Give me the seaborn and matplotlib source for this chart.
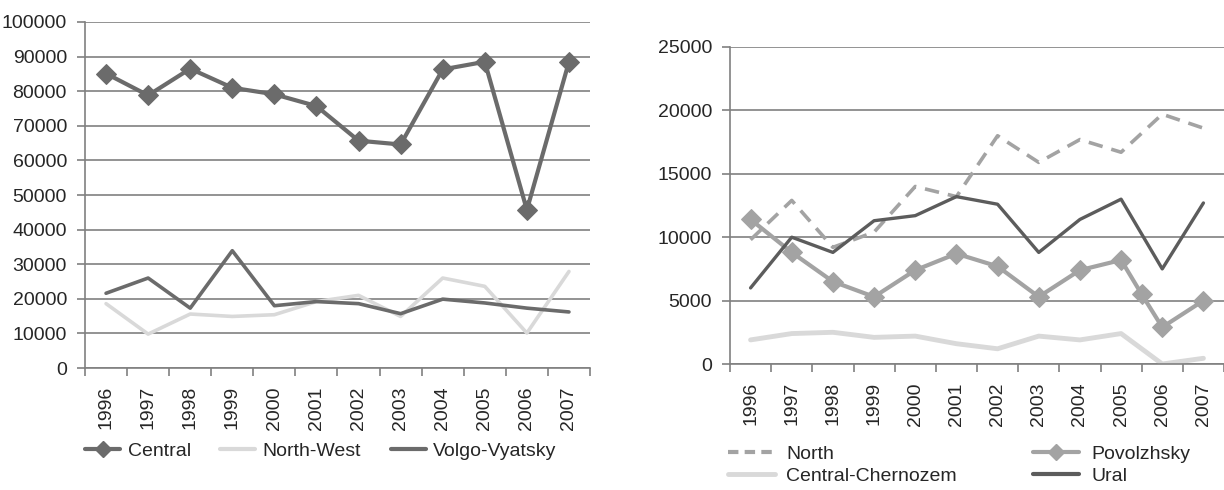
import numpy as np
import pandas as pd
import seaborn as sns
import matplotlib.pyplot as plt
from matplotlib.lines import Line2D

# Data -----------------------------------------------------------------------
years = [1996, 1997, 1998, 1999, 2000, 2001, 2002, 2003, 2004, 2005, 2006, 2007]

central = [85100, 78800, 86500, 81000, 79100, 75700, 65700, 64600, 86300, 88500, 45700, 88500]
north_west = [18600, 9800, 15600, 14900, 15400, 19200, 21000, 14900, 26000, 23600, 10100, 27900]
volgo_vyatsky = [21600, 26000, 17300, 33900, 18000, 19200, 18600, 15700, 19900, 18800, 17300, 16200]

north = [9800, 12900, 9200, 10400, 14000, 13200, 18000, 15900, 17700, 16700, 19700, 18600]
# Povolzhsky has one extra point drawn between 2005 and 2006 in the source
povolzhsky_years = [1996, 1997, 1998, 1999, 2000, 2001, 2002, 2003, 2004, 2005, 2005.5, 2006, 2007]
povolzhsky = [11400, 8800, 6500, 5300, 7400, 8700, 7700, 5300, 7400, 8200, 5500, 2900, 5000]
central_chernozem = [1900, 2400, 2500, 2100, 2200, 1600, 1200, 2200, 1900, 2400, 0, 450]
ural = [6000, 10000, 8800, 11300, 11700, 13200, 12600, 8800, 11400, 13000, 7500, 12700]

left_ticks = list(range(0, 100001, 10000))
right_ticks = list(range(0, 25001, 5000))

# Styling --------------------------------------------------------------------
sns.set_style("white")
plt.rcParams['font.family'] = ['Liberation Sans', 'DejaVu Sans']
FS = 14        # tick labels
LFS = 14       # legend
GRID = "#808080"
DARK = "#6b6b6b"
MID = "#a3a3a3"
LIGHT = "#d9d9d9"
URAL = "#5c5c5c"

fig = plt.figure(figsize=(12.24, 4.9), dpi=100)
ax_l = fig.add_axes([85 / 1224, 122 / 490, 505 / 1224, 346 / 490])
ax_r = fig.add_axes([730 / 1224, 126 / 490, 494 / 1224, 317 / 490])


def style_axis(ax, yticks):
    ax.set_xlim(-0.5, len(years) - 0.5)
    ax.set_ylim(yticks[0], yticks[-1])
    ax.set_yticks(yticks)
    ax.set_yticklabels([str(t) for t in yticks], fontsize=FS)
    ax.set_xticks(np.arange(-0.5, len(years), 1.0))
    ax.set_xticklabels([])
    ax.set_xticks(np.arange(len(years)), minor=True)
    ax.set_xticklabels([str(y) for y in years], minor=True, rotation=90, fontsize=FS)
    ax.tick_params(axis="x", which="major", length=6, width=1.2, color=GRID, direction="out", bottom=True)
    ax.tick_params(axis="x", which="minor", length=0, pad=13)
    ax.tick_params(axis="y", length=6, width=1.2, color=GRID, direction="out", left=True, pad=7)
    ax.grid(axis="y", color=GRID, linewidth=1.2)
    ax.grid(axis="x", visible=False)
    ax.set_axisbelow(True)
    for side in ["top", "right"]:
        ax.spines[side].set_visible(False)
    for side in ["left", "bottom"]:
        ax.spines[side].set_color(GRID)
        ax.spines[side].set_linewidth(1.2)
    ax.set_xlabel("")
    ax.set_ylabel("")


def xpos(yrs):
    return [y - years[0] for y in yrs]


# Left chart -----------------------------------------------------------------
sns.lineplot(x=xpos(years), y=north_west, ax=ax_l, color=LIGHT, linewidth=2.6)
sns.lineplot(x=xpos(years), y=volgo_vyatsky, ax=ax_l, color=DARK, linewidth=2.6)
sns.lineplot(x=xpos(years), y=central, ax=ax_l, color=DARK, linewidth=3,
             marker="D", markersize=10, markeredgecolor=DARK)
style_axis(ax_l, left_ticks)

# Right chart ----------------------------------------------------------------
sns.lineplot(x=xpos(years), y=central_chernozem, ax=ax_r, color=LIGHT, linewidth=3.5)
sns.lineplot(x=xpos(years), y=north, ax=ax_r, color=MID, linewidth=2.6, linestyle=(0, (4, 2.5)))
sns.lineplot(x=xpos(povolzhsky_years), y=povolzhsky, ax=ax_r, color=MID, linewidth=3,
             marker="D", markersize=10, markeredgecolor=MID)
sns.lineplot(x=xpos(years), y=ural, ax=ax_r, color=URAL, linewidth=2.4)
style_axis(ax_r, right_ticks)

# Legends --------------------------------------------------------------------
h_central = Line2D([], [], color=DARK, lw=3, marker="D", markersize=8)
h_nw = Line2D([], [], color=LIGHT, lw=3)
h_vv = Line2D([], [], color=DARK, lw=3)
fig.legend([h_central, h_nw, h_vv], ["Central", "North-West", "Volgo-Vyatsky"],
           loc="center left", bbox_to_anchor=(85 / 1224, 1 - 451 / 490), ncol=3,
           frameon=False, fontsize=LFS, handlelength=1.8, handletextpad=0.4,
           columnspacing=1.5, borderpad=0, borderaxespad=0)

h_north = Line2D([], [], color=MID, lw=3, linestyle=(0, (2.5, 1.5)))
h_cc = Line2D([], [], color=LIGHT, lw=3.5)
h_pov = Line2D([], [], color=MID, lw=3, marker="D", markersize=8)
h_ural = Line2D([], [], color=URAL, lw=3)
fig.legend([h_north, h_cc, h_pov, h_ural], ["North", "Central-Chernozem", "Povolzhsky", "Ural"],
           loc="center left", bbox_to_anchor=(728 / 1224, 1 - 465 / 490), ncol=2,
           frameon=False, fontsize=LFS, handlelength=2.4, handletextpad=0.6,
           columnspacing=3.9, labelspacing=0.2, borderpad=0, borderaxespad=0)

fig.savefig("out.png", dpi=100)
